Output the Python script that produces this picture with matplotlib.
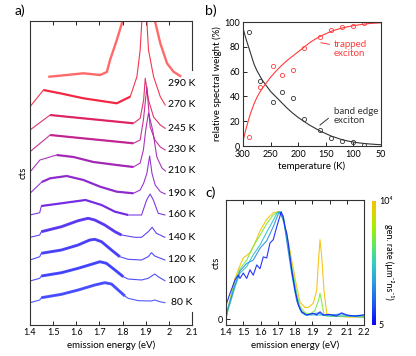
import matplotlib
matplotlib.use("Agg")
import matplotlib.pyplot as plt
import numpy as np
from matplotlib.colors import LinearSegmentedColormap, LogNorm
from matplotlib.cm import ScalarMappable
from matplotlib.ticker import FormatStrFormatter

plt.rcParams['font.family'] = ['Lato', 'DejaVu Sans']

# ---- panel a: PL spectra (energy in eV, counts in arbitrary offset units) ----
temps = [290, 270, 245, 230, 210, 190, 160, 140, 120, 100, 80]

e_290 = [1.484, 1.559, 1.631, 1.703, 1.732, 1.746, 1.775, 1.797, 1.870, 1.941, 1.963, 1.992, 2.020, 2.049]
c_290 = [248.3, 250.0, 251.7, 250.0, 253.0, 265.0, 285.0, 301.7, 520.0, 303.0, 281.7, 261.7, 253.3, 249.0]
e_270 = [1.400, 1.458, 1.530, 1.631, 1.775, 1.833, 1.862, 1.876, 1.883, 1.894, 1.905, 1.912, 1.934, 1.963, 1.984]
c_270 = [218.3, 235.0, 231.7, 226.7, 221.7, 228.3, 248.3, 275.0, 303.0, 420.0, 303.0, 275.0, 248.3, 228.3, 220.0]
e_245 = [1.400, 1.487, 1.559, 1.703, 1.847, 1.876, 1.891, 1.898, 1.912, 1.934, 1.963, 1.984]
c_245 = [195.0, 210.0, 208.3, 205.0, 201.7, 206.7, 225.0, 246.7, 225.0, 208.0, 200.0, 196.7]
e_230 = [1.400, 1.487, 1.559, 1.703, 1.847, 1.876, 1.890, 1.905, 1.919, 1.940, 1.963, 1.984]
c_230 = [173.3, 190.0, 188.3, 185.0, 181.7, 185.0, 205.0, 238.0, 198.0, 185.0, 178.0, 175.0]
e_210 = [1.400, 1.443, 1.515, 1.588, 1.674, 1.775, 1.847, 1.876, 1.890, 1.900, 1.912, 1.930, 1.948, 1.970, 1.985]
c_210 = [153.0, 165.0, 170.0, 168.0, 163.0, 160.0, 158.0, 162.0, 175.0, 195.0, 212.0, 195.0, 168.0, 157.0, 154.0]
e_190 = [1.400, 1.451, 1.487, 1.559, 1.631, 1.703, 1.775, 1.847, 1.876, 1.891, 1.905, 1.917, 1.927, 1.941, 1.963, 1.984]
c_190 = [131.7, 143.0, 146.7, 149.0, 145.0, 138.3, 133.3, 131.7, 135.0, 141.7, 151.7, 169.0, 151.7, 140.0, 133.3, 131.0]
e_160 = [1.400, 1.442, 1.449, 1.536, 1.608, 1.640, 1.709, 1.767, 1.824, 1.882, 1.904, 1.919, 1.933, 1.954, 1.983]
c_160 = [110.0, 112.3, 119.0, 121.7, 124.0, 125.0, 120.0, 113.3, 110.0, 110.0, 125.0, 131.0, 125.0, 111.7, 110.0]
e_140 = [1.400, 1.442, 1.449, 1.536, 1.608, 1.651, 1.680, 1.723, 1.767, 1.795, 1.853, 1.882, 1.911, 1.928, 1.946, 1.983]
c_140 = [87.7, 90.0, 93.3, 98.3, 104.3, 106.7, 105.0, 100.0, 93.3, 90.0, 87.7, 87.7, 93.3, 97.7, 91.7, 87.7]
e_120 = [1.400, 1.442, 1.449, 1.536, 1.608, 1.658, 1.680, 1.709, 1.752, 1.788, 1.824, 1.882, 1.911, 1.925, 1.939, 1.983]
c_120 = [65.0, 68.3, 71.7, 75.0, 80.0, 85.0, 85.7, 83.3, 75.0, 68.3, 65.7, 65.0, 68.3, 72.3, 69.0, 65.0]
e_100 = [1.400, 1.442, 1.449, 1.536, 1.608, 1.680, 1.702, 1.730, 1.767, 1.803, 1.824, 1.882, 1.911, 1.939, 1.954, 1.983]
c_100 = [44.0, 46.7, 49.0, 52.3, 56.7, 61.7, 63.3, 61.7, 55.0, 48.3, 46.0, 45.0, 46.7, 51.0, 48.3, 44.3]
e_80 = [1.400, 1.442, 1.449, 1.536, 1.608, 1.680, 1.723, 1.752, 1.781, 1.810, 1.824, 1.868, 1.925, 1.939, 1.961, 1.983]
c_80 = [22.3, 25.0, 27.3, 30.7, 35.0, 40.0, 42.3, 41.0, 35.0, 29.0, 26.7, 24.3, 24.0, 25.0, 23.3, 22.3]

spectra = [(e_290, c_290), (e_270, c_270), (e_245, c_245), (e_230, c_230), (e_210, c_210),
           (e_190, c_190), (e_160, c_160), (e_140, c_140), (e_120, c_120), (e_100, c_100), (e_80, c_80)]

# ---- panel b: relative spectral weight vs temperature ----
t_pts = [290, 270, 245, 230, 210, 190, 160, 140, 120, 100, 80]
band_edge = [92.0, 52.7, 35.7, 43.2, 38.9, 21.4, 12.7, 6.8, 4.0, 3.2, 1.0]
trapped = [7.3, 47.3, 64.6, 57.0, 61.4, 79.0, 87.6, 93.8, 95.7, 97.0, 98.9]

t_fit = [300, 295, 290, 285, 280, 275, 270, 265, 260, 255, 250, 240, 230, 220, 210, 200,
         190, 180, 170, 160, 150, 140, 130, 120, 110, 100, 90, 80, 70, 60, 50]
band_fit = [95, 87, 80, 73, 66, 61, 57, 53, 50, 47, 44, 39.5, 35, 30.5, 26.5, 23,
            20, 17, 14.5, 12, 10, 8, 6.5, 5, 4, 3.2, 2.5, 2, 1.6, 1.3, 1.0]
trap_fit = [4, 13, 21, 28, 34, 39, 43, 46.5, 49.5, 52.5, 55.5, 60.5, 65, 69, 72.5, 76,
            79.5, 83, 86, 88.5, 90.5, 92.5, 94, 95.2, 96.2, 97, 97.7, 98.3, 98.8, 99.1, 99.3]

# ---- panel c: normalised spectra at several generation rates ----
gen_rates = [10000, 1000, 150, 50, 8]
e_g1 = [1.400, 1.404, 1.423, 1.452, 1.481, 1.500, 1.540, 1.560, 1.597, 1.636, 1.674, 1.703, 1.723, 1.752,
        1.781, 1.810, 1.829, 1.858, 1.877, 1.906, 1.926, 1.935, 1.945, 1.955, 1.968, 1.984, 2.022, 2.110, 2.200]
v_g1 = [0.0, 0.04, 0.18, 0.38, 0.50, 0.57, 0.62, 0.68, 0.82, 0.93, 0.99, 1.0, 0.97, 0.80,
        0.55, 0.30, 0.16, 0.11, 0.11, 0.15, 0.27, 0.52, 0.74, 0.58, 0.27, 0.055, 0.03, 0.02, 0.02]
e_g2 = [1.400, 1.404, 1.423, 1.452, 1.481, 1.520, 1.558, 1.597, 1.636, 1.674, 1.703, 1.732, 1.752,
        1.781, 1.810, 1.829, 1.858, 1.887, 1.915, 1.935, 1.945, 1.955, 1.968, 1.990, 2.100, 2.200]
v_g2 = [0.0, 0.04, 0.17, 0.36, 0.47, 0.55, 0.68, 0.78, 0.89, 0.97, 1.0, 0.94, 0.77,
        0.49, 0.24, 0.12, 0.06, 0.05, 0.08, 0.17, 0.24, 0.16, 0.04, 0.03, 0.03, 0.025]
e_g3 = [1.400, 1.410, 1.430, 1.452, 1.481, 1.520, 1.558, 1.597, 1.636, 1.674, 1.697, 1.710, 1.732,
        1.752, 1.781, 1.810, 1.829, 1.858, 1.900, 1.950, 2.000, 2.100, 2.200]
v_g3 = [0.0, 0.08, 0.18, 0.30, 0.43, 0.49, 0.60, 0.69, 0.81, 0.92, 0.99, 1.0, 0.96,
        0.77, 0.47, 0.21, 0.09, 0.04, 0.04, 0.04, 0.03, 0.03, 0.02]
e_g4 = [1.400, 1.410, 1.430, 1.452, 1.481, 1.520, 1.558, 1.597, 1.636, 1.674, 1.703, 1.713, 1.736,
        1.781, 1.810, 1.839, 1.868, 1.900, 1.940, 1.960, 2.000, 2.070, 2.120, 2.200]
v_g4 = [0.02, 0.10, 0.20, 0.32, 0.45, 0.52, 0.55, 0.66, 0.73, 0.86, 0.98, 1.0, 0.90,
        0.42, 0.17, 0.06, 0.04, 0.05, 0.06, 0.04, 0.04, 0.05, 0.03, 0.04]
e_g5 = [1.400, 1.404, 1.423, 1.452, 1.471, 1.481, 1.500, 1.520, 1.539, 1.558, 1.578, 1.597, 1.616,
        1.636, 1.655, 1.674, 1.694, 1.713, 1.720, 1.732, 1.742, 1.752, 1.761, 1.771, 1.781, 1.800,
        1.820, 1.839, 1.868, 1.906, 1.926, 1.945, 1.965, 2.000, 2.040, 2.070, 2.100, 2.150, 2.200]
v_g5 = [0.12, 0.15, 0.24, 0.365, 0.41, 0.38, 0.43, 0.38, 0.46, 0.41, 0.505, 0.47, 0.58,
        0.57, 0.71, 0.74, 0.86, 0.96, 1.0, 0.95, 0.86, 0.80, 0.71, 0.58, 0.46, 0.27,
        0.13, 0.07, 0.04, 0.056, 0.04, 0.07, 0.04, 0.045, 0.03, 0.06, 0.04, 0.03, 0.04]
gen_spectra = [(e_g1, v_g1), (e_g2, v_g2), (e_g3, v_g3), (e_g4, v_g4), (e_g5, v_g5)]

W, H = 416, 356
fig = plt.figure(figsize=(W / 100, H / 100), dpi=100)
spine_c = '#333333'

def px_axes(l, t, r, b):
    return fig.add_axes([l / W, 1 - b / H, (r - l) / W, (b - t) / H])

# ---------------- a) ----------------
ax = px_axes(30, 21, 192, 325)
colors_a = ['#ff2a2a', '#f4203c', '#dc1e5c', '#bf1f8e', '#a020b4', '#8a24cc',
            '#7026e0', '#5530f0', '#4238f8', '#3a3cff', '#4046ff']
thick_end = [2.1, 1.86, 1.86, 1.86, 1.86, 1.85, 1.83, 1.80, 1.79, 1.81, 1.815]
for T, (e, c), col, te in zip(temps, spectra, colors_a, thick_end):
    e = np.array(e); c = np.array(c)
    if T == 290:
        ax.plot(e, c, color=col, lw=1.7, alpha=0.7)
    else:
        ax.plot(e, c, color=col, lw=0.8, alpha=0.9)
        m = (e >= 1.445) & (e <= te)
        lw = 2.1 if T <= 140 else 1.6
        ax.plot(e[m], c[m], color=col, lw=lw, alpha=0.9, solid_capstyle='butt')
    dy = -7 if T == 290 else 0
    xt = 2.008 if T == 80 else 1.997
    ax.text(xt, c[-1] + dy, f'{T} K', fontsize=7.5, va='center', ha='left', clip_on=False)

ax.set_xlim(1.4, 2.1)
ax.set_ylim(0, 304)
ax.set_xticks(np.arange(1.4, 2.11, 0.1))
ax.xaxis.set_major_formatter(FormatStrFormatter('%g'))
ax.set_yticks([])
ax.tick_params(axis='x', direction='in', top=True, length=3, width=0.6, labelsize=6.5, pad=2)
ax.spines['right'].set_visible(False)
for s in ['left', 'top', 'bottom']:
    ax.spines[s].set_linewidth(0.8)
    ax.spines[s].set_color(spine_c)
ax.plot([1, 1], [0.84, 1], transform=ax.transAxes, color=spine_c, lw=0.8, clip_on=False)
ax.plot([1, 1], [0, 0.043], transform=ax.transAxes, color=spine_c, lw=0.8, clip_on=False)
ax.set_xlabel('emission energy (eV)', fontsize=7, labelpad=3)
ax.set_ylabel('cts', fontsize=7, labelpad=2)

# ---------------- b) ----------------
bx = px_axes(243, 22, 381, 146)
red = '#ff3b3b'
bx.plot(t_fit, band_fit, color='#333333', lw=0.8)
bx.plot(t_fit, trap_fit, color=red, lw=0.8)
bx.plot(t_pts, band_edge, 'o', mfc='none', mec='#333333', ms=3, mew=0.6)
bx.plot(t_pts, trapped, 'o', mfc='none', mec=red, ms=3, mew=0.6)
bx.set_xlim(300, 50)
bx.set_ylim(0, 100)
bx.set_xticks([300, 250, 200, 150, 100, 50])
bx.set_yticks([0, 20, 40, 60, 80, 100])
bx.tick_params(direction='in', length=3, width=0.6, labelsize=6.5, pad=2)
bx.tick_params(axis='x', pad=3)
for s in bx.spines.values():
    s.set_linewidth(0.8)
    s.set_color(spine_c)
bx.set_xlabel('temperature (K)', fontsize=7, labelpad=2)
bx.set_ylabel('relative spectral weight (%)', fontsize=7, labelpad=2)
bx.text(136.4, 78, 'trapped\nexciton', color=red, fontsize=7, va='center', ha='left', linespacing=1.0)
bx.plot([158.7, 143.6], [83.3, 82.0], color=red, lw=0.7)
bx.text(136.0, 23.8, 'band edge\nexciton', color='#333333', fontsize=7, va='center', ha='left', linespacing=1.0)
bx.plot([160.5, 145.4], [16.9, 22.3], color='#333333', lw=0.7)

# ---------------- c) ----------------
cx = px_axes(226, 200, 364, 325)
cmap = LinearSegmentedColormap.from_list('gen', [
    (0.0, '#0a00ff'), (0.15, '#1a50f0'), (0.35, '#2aa0e0'), (0.5, '#30d0c0'),
    (0.65, '#60e860'), (0.78, '#a0f000'), (0.9, '#d8d800'), (1.0, '#f5c000')])
norm = LogNorm(5, 1e4)
for g, (e, v) in zip(gen_rates, gen_spectra):
    cx.plot(e, v, color=cmap(norm(g)), lw=0.8, alpha=0.9)
cx.set_xlim(1.4, 2.2)
cx.set_ylim(-0.053, 1.109)
cx.set_xticks(np.arange(1.4, 2.21, 0.1))
cx.xaxis.set_major_formatter(FormatStrFormatter('%g'))
cx.set_yticks([0])
cx.tick_params(direction='in', top=True, length=3, width=0.6, labelsize=6.5, pad=2)
for s in cx.spines.values():
    s.set_linewidth(0.8)
    s.set_color(spine_c)
cx.set_xlabel('emission energy (eV)', fontsize=7, labelpad=3)
cx.set_ylabel('cts', fontsize=7, labelpad=-2)

cax = px_axes(372, 201, 376, 325)
cb = fig.colorbar(ScalarMappable(norm=norm, cmap=cmap), cax=cax)
cb.outline.set_visible(False)
cb.set_ticks([5, 1e4])
cb.set_ticklabels(['5', '10⁴'])
cb.minorticks_off()
cax.tick_params(length=0, labelsize=6.5, pad=2)
fig.text(388.5 / W, 1 - 262 / H, 'gen. rate (µm⁻²ns⁻¹)', rotation=270, fontsize=6.5,
         va='center', ha='center')

fig.text(15 / W, 1 - 11 / H, 'a)', fontsize=10, va='center')
fig.text(205 / W, 1 - 11 / H, 'b)', fontsize=10, va='center')
fig.text(205 / W, 1 - 193 / H, 'c)', fontsize=10, va='center')

fig.savefig('out.png', dpi=100)
